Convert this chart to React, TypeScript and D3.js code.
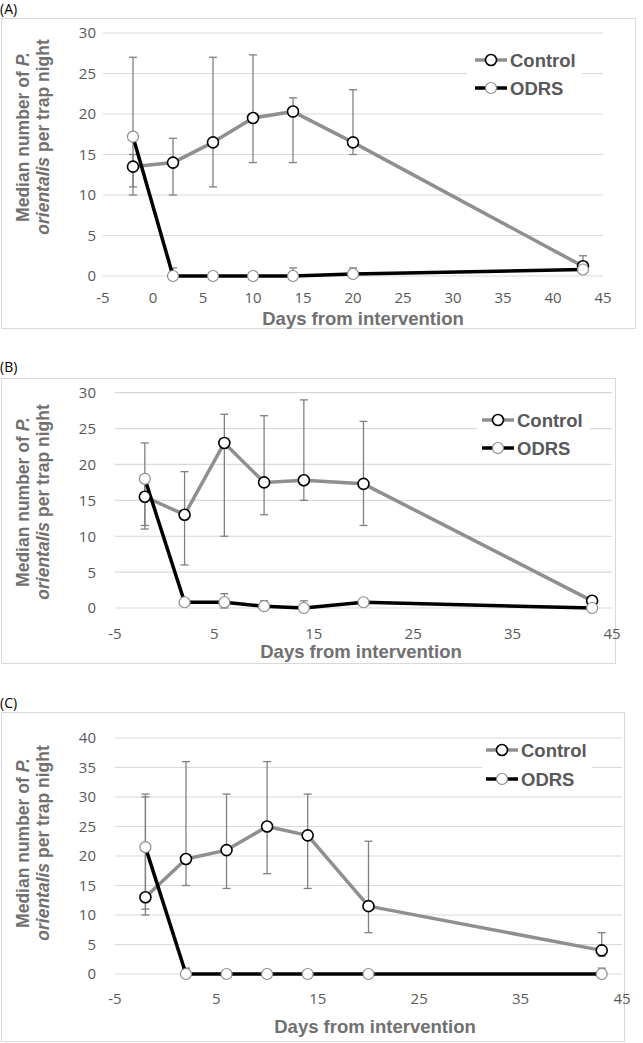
import * as d3 from 'd3'

// sampling days (same for all panels)
const days = [-2, 2, 6, 10, 14, 20, 43]

// (A)
const controlA = [13.5, 14, 16.5, 19.5, 20.3, 16.5, 1.2]
const controlLowA = [11, 10, 11, 14, 14, 15, 0.3]
const controlHighA = [15, 17, 27, 27.3, 22, 23, 2.5]
const odrsA = [17.2, 0, 0, 0, 0, 0.25, 0.8]
const odrsLowA = [10, 0, 0, 0, 0, 0, 0.8]
const odrsHighA = [27, 1, 0, 0, 1, 1, 0.8]

// (B)
const controlB = [15.5, 13, 23, 17.5, 17.8, 17.3, 1]
const controlLowB = [11, 6, 10, 13, 15, 11.5, 1]
const controlHighB = [23, 19, 27, 26.8, 29, 26, 1]
const odrsB = [18, 0.8, 0.8, 0.25, 0, 0.8, 0]
const odrsLowB = [11.5, 0.8, 0, 0, 0, 0.8, 0]
const odrsHighB = [18, 0.8, 2, 1, 1, 0.8, 0]

// (C)
const controlC = [13, 19.5, 21, 25, 23.5, 11.5, 4]
const controlLowC = [10, 15, 14.5, 17, 14.5, 7, 3]
const controlHighC = [30, 36, 30.5, 36, 30.5, 22.5, 7]
const odrsC = [21.5, 0, 0, 0, 0, 0, 0]
const odrsLowC = [11, 0, 0, 0, 0, 0, 0]
const odrsHighC = [30.5, 1, 0, 0, 0, 0, 1]

const ticksA = [-5, 0, 5, 10, 15, 20, 25, 30, 35, 40, 45]
const ticksBC = [-5, 5, 15, 25, 35, 45]

const seriesNames = ['Control', 'ODRS']

const GRID = '#d9d9d9'
const CTRL = '#8f8f8f'
const TICK = '#595959'
const TITLE = '#707070'
const tickFont = "'Open Sans', 'Liberation Sans', sans-serif"
const boldFont = "'Liberation Sans', Arial, sans-serif"

interface Series {
  med: number[]
  low: number[]
  high: number[]
}

interface PanelProps {
  label: string
  labelY: number
  frame: { x: number; y: number; w: number; h: number }
  xRange: [number, number]
  yRange: [number, number]
  yMax: number
  xTicks: number[]
  tickY: number
  title: [number, number]
  legend: { x: number; y: number[] }
  mask: { x: number; y: number; w: number; h: number }
  yLabelY: number
  control: Series
  odrs: Series
}

function Panel(p: PanelProps) {
  const x = d3.scaleLinear().domain([-5, 45]).range(p.xRange)
  const y = d3.scaleLinear().domain([0, p.yMax]).range(p.yRange)
  const yTicks = d3.range(0, p.yMax + 1, 5)
  const line = d3.line<number>()
    .x((_, i) => x(days[i]))
    .y(d => y(d))

  const errBars = (s: Series, key: string) =>
    days.map((d, i) => {
      if (s.high[i] - s.low[i] <= 0) return null
      const cx = x(d)
      return (
        <g key={key + i} stroke="#808080" strokeWidth={1.3}>
          <line x1={cx} x2={cx} y1={y(s.low[i])} y2={y(s.high[i])} />
          <line x1={cx - 4} x2={cx + 4} y1={y(s.low[i])} y2={y(s.low[i])} />
          <line x1={cx - 4} x2={cx + 4} y1={y(s.high[i])} y2={y(s.high[i])} />
        </g>
      )
    })

  return (
    <g>
      <text x={0} y={p.labelY} fontFamily={tickFont} fontSize={14} fill="#000">{p.label}</text>
      <rect x={p.frame.x} y={p.frame.y} width={p.frame.w} height={p.frame.h} fill="none" stroke={GRID} strokeWidth={1} />
      {yTicks.map(t => (
        <g key={'y' + t}>
          <line x1={p.xRange[0]} x2={p.xRange[1]} y1={y(t)} y2={y(t)} stroke={GRID} strokeWidth={1.2} />
          <text x={96} y={y(t)} dy="0.36em" textAnchor="end" fontFamily={tickFont} fontSize={15} fill={TICK}>{t}</text>
        </g>
      ))}
      {p.xTicks.map(t => (
        <text key={'x' + t} x={x(t)} y={p.tickY} textAnchor="middle" fontFamily={tickFont} fontSize={15} fill={TICK}>{t}</text>
      ))}
      <text x={p.title[0]} y={p.title[1]} textAnchor="middle" fontFamily={boldFont} fontWeight="bold" fontSize={18.5} fill={TITLE}>
        Days from intervention
      </text>
      <g transform={`translate(23,${p.yLabelY}) rotate(-90)`} fontFamily={boldFont} fontWeight="bold" fontSize={17.5} fill={TITLE} textAnchor="middle">
        <text dy="0.35em">Median number of <tspan fontStyle="italic">P.</tspan></text>
        <text y={19.5} dy="0.35em"><tspan fontStyle="italic">orientalis</tspan> per trap night</text>
      </g>
      {errBars(p.control, 'ce')}
      {errBars(p.odrs, 'oe')}
      <path d={line(p.control.med) ?? ''} fill="none" stroke={CTRL} strokeWidth={3.5} strokeLinejoin="round" />
      <path d={line(p.odrs.med) ?? ''} fill="none" stroke="#000" strokeWidth={3.5} strokeLinejoin="round" />
      {p.control.med.map((v, i) => (
        <circle key={'cm' + i} cx={x(days[i])} cy={y(v)} r={5.5} fill="#fff" stroke="#000" strokeWidth={1.6} />
      ))}
      {p.odrs.med.map((v, i) => (
        <circle key={'om' + i} cx={x(days[i])} cy={y(v)} r={5.5} fill="#fff" stroke="#8a8a8a" strokeWidth={1.2} />
      ))}
      <rect x={p.mask.x} y={p.mask.y} width={p.mask.w} height={p.mask.h} fill="#fff" />
      {seriesNames.map((name, i) => (
        <g key={name}>
          <line x1={p.legend.x} x2={p.legend.x + 32} y1={p.legend.y[i]} y2={p.legend.y[i]}
            stroke={i === 0 ? CTRL : '#000'} strokeWidth={3.5} />
          <circle cx={p.legend.x + 16} cy={p.legend.y[i]} r={5.5} fill="#fff"
            stroke={i === 0 ? '#000' : '#8a8a8a'} strokeWidth={i === 0 ? 1.6 : 1.2} />
          <text x={p.legend.x + 35} y={p.legend.y[i]} dy="0.36em" fontFamily={boldFont} fontWeight="bold" fontSize={18.5} fill={TICK}>
            {name}
          </text>
        </g>
      ))}
    </g>
  )
}

export default function App() {
  return (
    <svg width={643} height={1043} style={{ position: 'absolute', left: 0, top: 0, background: '#fff' }}>
      <Panel
        label="(A)" labelY={14}
        frame={{ x: 1.5, y: 18.5, w: 634, h: 310 }}
        xRange={[103, 603]} yRange={[276, 33]} yMax={30}
        xTicks={ticksA} tickY={303} title={[363, 324.5]}
        legend={{ x: 475, y: [60, 88] }}
        mask={{ x: 467, y: 48, w: 115, h: 52 }}
        yLabelY={137}
        control={{ med: controlA, low: controlLowA, high: controlHighA }}
        odrs={{ med: odrsA, low: odrsLowA, high: odrsHighA }}
      />
      <Panel
        label="(B)" labelY={372}
        frame={{ x: 1.5, y: 378.5, w: 614, h: 285 }}
        xRange={[115, 612]} yRange={[608, 392.7]} yMax={30}
        xTicks={ticksBC} tickY={639} title={[361, 658]}
        legend={{ x: 482, y: [420, 448] }}
        mask={{ x: 477, y: 408, w: 113, h: 48 }}
        yLabelY={502}
        control={{ med: controlB, low: controlLowB, high: controlHighB }}
        odrs={{ med: odrsB, low: odrsLowB, high: odrsHighB }}
      />
      <Panel
        label="(C)" labelY={708}
        frame={{ x: 1.5, y: 712.5, w: 623, h: 329 }}
        xRange={[115, 622]} yRange={[974, 738]} yMax={40}
        xTicks={ticksBC} tickY={1004} title={[375, 1033]}
        legend={{ x: 486, y: [750, 779] }}
        mask={{ x: 482, y: 742, w: 110, h: 46 }}
        yLabelY={843}
        control={{ med: controlC, low: controlLowC, high: controlHighC }}
        odrs={{ med: odrsC, low: odrsLowC, high: odrsHighC }}
      />
    </svg>
  )
}
